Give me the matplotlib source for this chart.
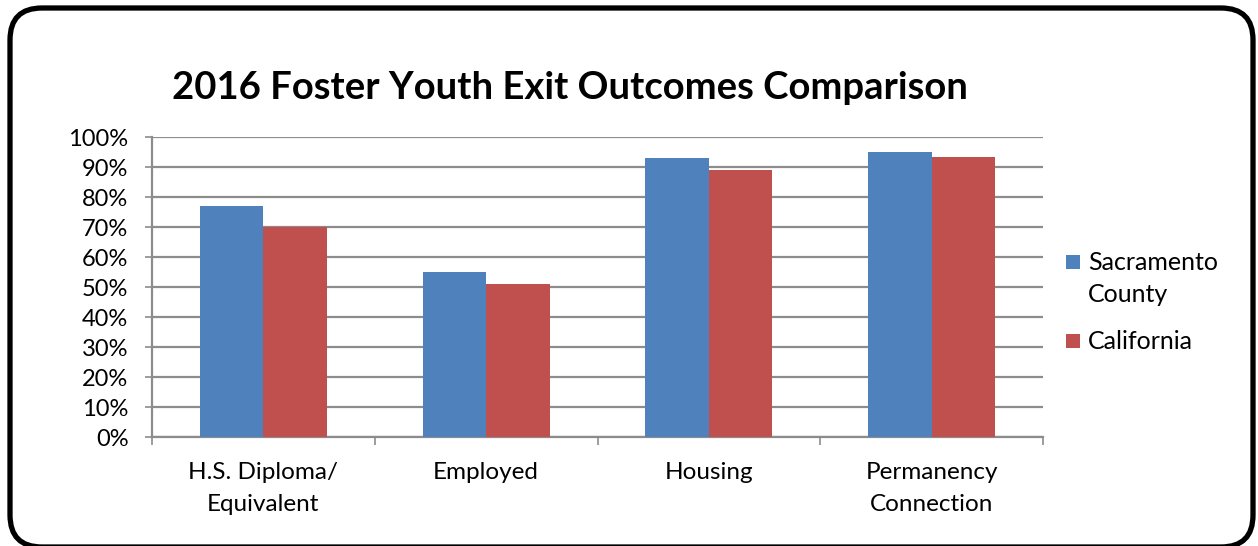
import matplotlib
matplotlib.use("Agg")
import matplotlib.pyplot as plt
from matplotlib.patches import FancyBboxPatch, Rectangle
import numpy as np

plt.rcParams['font.family'] = ['Lato', 'DejaVu Sans']

categories = ["H.S. Diploma/\nEquivalent", "Employed", "Housing", "Permanency\nConnection"]
sacramento = [77, 55, 93, 95]
california = [70, 51, 89, 93.5]
series_names = ["Sacramento\nCounty", "California"]
y_ticks = list(range(0, 101, 10))
title = "2016 Foster Youth Exit Outcomes Comparison"

W, H = 1258, 546
fig = plt.figure(figsize=(W / 100, H / 100), dpi=100)

# background layer in pixel units (frame + legend)
bg = fig.add_axes([0, 0, 1, 1], zorder=-1)
bg.set_xlim(0, W)
bg.set_ylim(H, 0)
bg.axis("off")
frame = FancyBboxPatch((10, 8), 1243, 539,
                       boxstyle="round,pad=0,rounding_size=32",
                       facecolor="white", edgecolor="black", linewidth=3.8)
bg.add_patch(frame)

blue = "#4F81BD"
red = "#C0504D"
grid_c = "#8C8C8C"
colors = [blue, red]

ax = fig.add_axes([152 / W, 1 - 437 / H, (1043 - 152) / W, 300 / H])
ax.set_facecolor("none")

x = np.arange(len(categories)) + 0.5
bw = 0.285
ax.bar(x - bw / 2, sacramento, width=bw, color=blue, zorder=3)
ax.bar(x + bw / 2, california, width=bw, color=red, zorder=3)

ax.set_xlim(0, len(categories))
ax.set_ylim(0, 100)
ax.set_yticks(y_ticks)
ax.set_yticklabels([f"{v}%" for v in y_ticks])
ax.yaxis.grid(True, color=grid_c, linewidth=1.6, zorder=0)
ax.set_axisbelow(True)

ax.set_xticks(np.arange(len(categories) + 1))
ax.set_xticklabels([])
ax.set_xticks(x, minor=True)
ax.set_xticklabels(categories, minor=True, fontsize=17.5, linespacing=1.62)
ax.tick_params(axis="x", which="minor", length=0, pad=18)
ax.tick_params(axis="x", which="major", length=6, width=1.2, color=grid_c, direction="out")
ax.tick_params(axis="y", length=5, width=1.2, color=grid_c, labelsize=17, pad=12)

for s in ["top", "right"]:
    ax.spines[s].set_visible(False)
for s in ["left", "bottom"]:
    ax.spines[s].set_color(grid_c)
    ax.spines[s].set_linewidth(1.6)

fig.text(570 / W, 1 - 88 / H, title, ha="center", va="center",
         fontsize=27.5, fontweight="bold")

# legend: square markers aligned with the first line of each label
legend_rows = [262, 341]
for name, c, yc in zip(series_names, colors, legend_rows):
    bg.add_patch(Rectangle((1066, yc - 7), 14, 14, facecolor=c, edgecolor="none"))
    bg.text(1088, yc - 11, name, ha="left", va="top", fontsize=18, linespacing=1.5)

fig.savefig("out.png", dpi=100)
